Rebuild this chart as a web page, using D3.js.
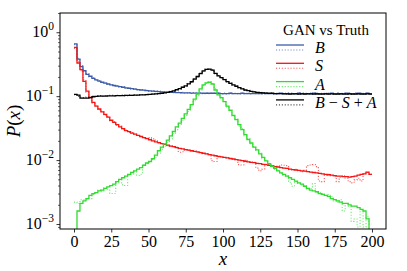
<!DOCTYPE html>
<html>
<head>
<meta charset="utf-8">
<script src="https://cdn.jsdelivr.net/npm/d3@7"></script>
<style>
  html, body { margin: 0; padding: 0; background: #fff; }
  svg, svg text { font-family: 'Liberation Serif', 'DejaVu Serif', 'Times New Roman', serif; }
  svg { display: block; }
</style>
</head>
<body>
<svg id="chart" width="407" height="271"></svg>
<script>
// bins of width 2 from 0 to 200
var binWidth = 2;
var binStarts = d3.range(0, 200, binWidth);

var xTicks = [0, 25, 50, 75, 100, 125, 150, 175, 200];
var yTicks = [1e-3, 1e-2, 1e-1, 1];
var yTickExp = ["\u22123", "\u22122", "\u22121", "0"];

// B : GAN (solid) and truth (dotted)
var bGan = [
  0.66,0.38,0.29,0.25,0.22,0.205,0.19,0.18,0.172,0.165,
  0.16,0.155,0.15,0.147,0.144,0.141,0.138,0.135,0.133,0.131,
  0.129,0.127,0.125,0.124,0.122,0.121,0.12,0.119,0.118,0.117,
  0.116,0.116,0.115,0.115,0.114,0.114,0.113,0.113,0.113,0.112,
  0.112,0.112,0.112,0.111,0.111,0.111,0.111,0.111,0.111,0.11,
  0.11,0.11,0.111,0.11,0.11,0.11,0.111,0.11,0.11,0.11,
  0.11,0.11,0.11,0.111,0.11,0.11,0.11,0.11,0.11,0.111,
  0.11,0.11,0.11,0.11,0.11,0.111,0.11,0.11,0.11,0.11,
  0.111,0.11,0.11,0.11,0.11,0.11,0.111,0.11,0.11,0.11,
  0.11,0.111,0.11,0.11,0.11,0.111,0.11,0.11,0.111,0.11
];
var bTruth = [
  0.64,0.39,0.3,0.245,0.226,0.2,0.194,0.177,0.175,0.162,
  0.162,0.152,0.152,0.145,0.146,0.139,0.14,0.133,0.134,0.129,
  0.131,0.125,0.127,0.122,0.124,0.119,0.122,0.117,0.12,0.115,
  0.118,0.114,0.117,0.113,0.116,0.112,0.115,0.111,0.114,0.11,
  0.114,0.11,0.113,0.109,0.113,0.109,0.112,0.109,0.113,0.108,
  0.112,0.108,0.113,0.109,0.111,0.108,0.112,0.109,0.113,0.108,
  0.111,0.109,0.112,0.108,0.113,0.109,0.111,0.108,0.112,0.11,
  0.109,0.112,0.108,0.111,0.109,0.113,0.108,0.111,0.109,0.112,
  0.108,0.113,0.109,0.111,0.108,0.112,0.11,0.109,0.113,0.108,
  0.111,0.109,0.112,0.108,0.113,0.109,0.111,0.108,0.112,0.11
];

// S
var sGan = [
  0.58,0.33,0.26,0.17,0.12,0.095,0.08,0.07,0.063,0.057,
  0.052,0.047,0.042,0.039,0.036,0.033,0.031,0.029,0.0278,0.0265,
  0.0254,0.0244,0.0234,0.0225,0.0216,0.0208,0.02,0.0193,0.0187,0.0181,
  0.0176,0.0171,0.0166,0.0162,0.0157,0.0153,0.015,0.0146,0.0143,0.014,
  0.0137,0.0134,0.0131,0.0128,0.0125,0.0122,0.012,0.0117,0.0114,0.0112,
  0.011,0.0108,0.0106,0.0104,0.0102,0.01,0.0098,0.0096,0.0094,0.0092,
  0.0091,0.0089,0.0088,0.0086,0.0085,0.0083,0.0081,0.0079,0.0078,0.0076,
  0.0075,0.0074,0.0072,0.0071,0.007,0.0069,0.0068,0.0067,0.0066,0.0065,
  0.0064,0.0063,0.0062,0.0061,0.006,0.0059,0.0058,0.0057,0.0056,0.0056,
  0.0055,0.0055,0.0054,0.0055,0.0056,0.0058,0.006,0.0061,0.0065,0.006
];
var sTruth = [
  0.56,0.35,0.25,0.18,0.115,0.098,0.078,0.072,0.061,0.058,
  0.05,0.048,0.041,0.04,0.035,0.034,0.03,0.0295,0.027,0.027,
  0.0255,0.0243,0.0236,0.0222,0.0219,0.0225,0.0215,0.0205,0.0186,0.0182,
  0.0178,0.0168,0.0167,0.0159,0.016,0.0133,0.0135,0.0146,0.0143,0.0138,
  0.0139,0.0132,0.0133,0.0126,0.0127,0.0121,0.0098,0.0095,0.0112,0.0113,
  0.0109,0.011,0.0105,0.0104,0.0101,0.0085,0.0084,0.0099,0.0097,0.0093,
  0.0092,0.0075,0.0068,0.0072,0.0086,0.0084,0.0082,0.0078,0.008,0.0084,
  0.0083,0.0082,0.0071,0.007,0.0072,0.0068,0.0066,0.0069,0.0082,0.0084,
  0.0085,0.0079,0.0047,0.0046,0.0058,0.006,0.0057,0.0055,0.0046,0.0054,
  0.0057,0.0052,0.0046,0.0044,0.0049,0.0052,0.0047,0.0063,0.0064,0.0061
];

// A
var aGan = [
  0,0.0016,0.0021,0.0023,0.0025,0.0028,0.003,0.0031,0.0033,0.0034,
  0.0036,0.0038,0.004,0.0042,0.0046,0.005,0.0053,0.0056,0.006,0.0064,
  0.0068,0.0072,0.0076,0.0083,0.009,0.0095,0.0105,0.012,0.014,0.016,
  0.018,0.0205,0.024,0.028,0.033,0.038,0.045,0.053,0.062,0.074,
  0.09,0.108,0.13,0.15,0.162,0.165,0.155,0.125,0.105,0.095,
  0.082,0.07,0.06,0.05,0.043,0.036,0.03,0.025,0.021,0.0185,
  0.016,0.0145,0.0125,0.011,0.0097,0.0088,0.008,0.0074,0.0068,0.0063,
  0.006,0.0056,0.0053,0.005,0.0047,0.0044,0.0042,0.0039,0.0036,0.0034,
  0.0033,0.0032,0.003,0.0029,0.0028,0.0027,0.0025,0.0024,0.0023,0.0022,
  0.0021,0.0021,0.002,0.0019,0.0019,0.0018,0.0017,0.0016,0.0012,0
];
var aTruth = [
  0.0022,0.0021,0.0024,0.0024,0.0024,0.0025,0.0029,0.0031,0.0034,0.0032,
  0.0037,0.0035,0.003,0.003,0.0044,0.0049,0.0041,0.004,0.0058,0.006,
  0.0066,0.0058,0.006,0.0083,0.0088,0.0093,0.0102,0.0111,0.0128,0.0148,
  0.0165,0.019,0.0215,0.026,0.03,0.036,0.042,0.05,0.058,0.07,
  0.085,0.102,0.125,0.146,0.16,0.168,0.158,0.13,0.108,0.093,
  0.084,0.068,0.062,0.048,0.044,0.034,0.031,0.024,0.022,0.018,
  0.0163,0.0142,0.0128,0.0105,0.0099,0.0085,0.0082,0.0072,0.0069,0.0062,
  0.0058,0.0057,0.0045,0.0039,0.0046,0.0043,0.0041,0.004,0.0035,0.0036,
  0.0043,0.0031,0.0031,0.003,0.0028,0.0029,0.0027,0.0023,0.0022,0.0024,
  0.0016,0.0021,0.0019,0.0011,0.0012,0.0009,0.0016,0.0009,0.0013,0.001
];

// B - S + A
var kGan = [
  0.107,0.104,0.093,0.093,0.093,0.095,0.098,0.099,0.1,0.1,
  0.1,0.101,0.101,0.101,0.102,0.102,0.102,0.103,0.103,0.103,
  0.104,0.104,0.105,0.105,0.106,0.107,0.108,0.109,0.11,0.111,
  0.113,0.115,0.118,0.121,0.126,0.131,0.138,0.145,0.156,0.168,
  0.185,0.203,0.226,0.248,0.262,0.265,0.256,0.228,0.207,0.195,
  0.181,0.169,0.159,0.15,0.143,0.136,0.13,0.125,0.122,0.119,
  0.117,0.115,0.114,0.113,0.112,0.111,0.111,0.11,0.11,0.11,
  0.109,0.109,0.108,0.109,0.109,0.108,0.109,0.108,0.109,0.109,
  0.108,0.109,0.108,0.108,0.109,0.108,0.109,0.108,0.108,0.109,
  0.108,0.108,0.109,0.108,0.108,0.109,0.108,0.108,0.109,0.108
];
var kTruth = [
  0.105,0.099,0.096,0.095,0.097,0.096,0.1,0.099,0.102,0.1,
  0.102,0.1,0.103,0.101,0.103,0.102,0.104,0.102,0.105,0.103,
  0.105,0.104,0.106,0.105,0.107,0.106,0.109,0.108,0.111,0.11,
  0.114,0.114,0.119,0.12,0.127,0.129,0.139,0.143,0.158,0.165,
  0.188,0.2,0.229,0.245,0.265,0.262,0.258,0.225,0.21,0.192,
  0.183,0.167,0.161,0.148,0.145,0.134,0.132,0.124,0.123,0.118,
  0.118,0.114,0.115,0.112,0.113,0.11,0.112,0.109,0.111,0.109,
  0.11,0.108,0.111,0.108,0.11,0.107,0.111,0.108,0.11,0.108,
  0.111,0.107,0.11,0.108,0.111,0.108,0.11,0.107,0.111,0.108,
  0.11,0.108,0.111,0.107,0.11,0.108,0.111,0.108,0.11,0.108
];

var seriesNames = ["B", "S", "A", "B-S+A"];
var seriesColors = ["#3d5ba8", "#f41515", "#2fdc2f", "#000000"];
var seriesGan = [bGan, sGan, aGan, kGan];
var seriesTruth = [bTruth, sTruth, aTruth, kTruth];

var serif = "'Liberation Serif', 'DejaVu Serif', 'Times New Roman', serif";

var svg = d3.select("#chart");

var plotLeft = 60,
    plotRight = 386,
    plotTop = 13,
    plotBottom = 229;

var x = d3.scaleLinear().domain([-9.4, 209.4]).range([plotLeft, plotRight]);
var y = d3.scaleLog().domain([8.36e-4, 2.0]).range([plotBottom, plotTop]);

svg.append("defs").append("clipPath")
    .attr("id", "plotclip")
  .append("rect")
    .attr("x", plotLeft)
    .attr("y", plotTop)
    .attr("width", plotRight - plotLeft)
    .attr("height", plotBottom - plotTop);

// step line, empty bins drop below the axis (clipped)
var stepLine = d3.line()
    .x(function(d) { return x(d[0]); })
    .y(function(d) { return d[1] > 0 ? y(d[1]) : plotBottom + 40; })
    .curve(d3.curveStepAfter);

function stepPoints(values) {
  var pts = values.map(function(v, i) { return [binStarts[i], v]; });
  pts.push([binStarts[values.length - 1] + binWidth, values[values.length - 1]]);
  return pts;
}

var lines = svg.append("g").attr("clip-path", "url(#plotclip)");

seriesNames.forEach(function(name, i) {
  // truth, dotted
  lines.append("path")
      .datum(stepPoints(seriesTruth[i]))
      .attr("d", stepLine)
      .style("fill", "none")
      .style("stroke", seriesColors[i])
      .style("stroke-width", 1.1)
      .style("stroke-dasharray", "1.1,1.8")
      .style("opacity", 0.7);
  // GAN, solid
  lines.append("path")
      .datum(stepPoints(seriesGan[i]))
      .attr("d", stepLine)
      .style("fill", "none")
      .style("stroke", seriesColors[i])
      .style("stroke-width", 1.3);
});


// Axes
var xAxis = svg.append("g")
    .attr("transform", "translate(0," + plotBottom + ")")
    .call(d3.axisBottom(x).tickValues(xTicks).tickSize(3.5).tickPadding(3).tickFormat(d3.format("d")));
xAxis.attr("font-family", null);
xAxis.select(".domain").remove();
xAxis.selectAll("line").style("stroke", "#000").style("stroke-width", 0.8);
xAxis.selectAll("text")
    .style("font-family", serif)
    .style("font-size", "16px")
    .style("fill", "#000");

// minor log ticks
var minorTicks = y.ticks().filter(function(d) { return yTicks.indexOf(d) < 0; });
var yMinor = svg.append("g")
    .attr("transform", "translate(" + plotLeft + ",0)")
    .call(d3.axisLeft(y).tickValues(minorTicks).tickSize(2).tickFormat(""));
yMinor.select(".domain").remove();
yMinor.selectAll("line").style("stroke", "#000").style("stroke-width", 0.6);

var yMajor = svg.append("g")
    .attr("transform", "translate(" + plotLeft + ",0)")
    .call(d3.axisLeft(y).tickValues(yTicks).tickSize(3.5).tickFormat(""));
yMajor.select(".domain").remove();
yMajor.selectAll("line").style("stroke", "#000").style("stroke-width", 0.8);

// 10^k labels
yTicks.forEach(function(t, i) {
  var label = svg.append("text")
      .attr("x", plotLeft - 6)
      .attr("y", y(t) + 5)
      .attr("text-anchor", "end")
      .style("font-family", serif)
      .style("font-size", "16px");
  label.append("tspan").text("10");
  label.append("tspan")
      .attr("dy", -7)
      .style("font-size", "11.5px")
      .text(yTickExp[i]);
});

// frame
svg.append("rect")
    .attr("x", plotLeft)
    .attr("y", plotTop)
    .attr("width", plotRight - plotLeft)
    .attr("height", plotBottom - plotTop)
    .style("fill", "none")
    .style("stroke", "#000")
    .style("stroke-width", 1);

// axis labels
svg.append("text")
    .attr("x", (plotLeft + plotRight) / 2)
    .attr("y", 265)
    .attr("text-anchor", "middle")
    .style("font-family", serif)
    .style("font-size", "19px")
    .style("font-style", "italic")
    .text("x");

var ylab = svg.append("text")
    .attr("transform", "translate(20," + ((plotTop + plotBottom) / 2) + ") rotate(-90)")
    .attr("text-anchor", "middle")
    .style("font-family", serif)
    .style("font-size", "19px");
ylab.append("tspan").style("font-style", "italic").text("P");
ylab.append("tspan").text("(");
ylab.append("tspan").style("font-style", "italic").text("x");
ylab.append("tspan").text(")");


// Legend
var legend = svg.append("g").style("font-family", serif);
legend.append("text")
    .attr("x", 326)
    .attr("y", 35)
    .attr("text-anchor", "middle")
    .style("font-size", "15px")
    .text("GAN vs Truth");

seriesNames.forEach(function(name, i) {
  var ly = 45 + i * 18.3;
  legend.append("line")
      .attr("x1", 276).attr("x2", 304)
      .attr("y1", ly).attr("y2", ly)
      .style("stroke", seriesColors[i])
      .style("stroke-width", 1.3);
  legend.append("line")
      .attr("x1", 276).attr("x2", 304)
      .attr("y1", ly + 5).attr("y2", ly + 5)
      .style("stroke", seriesColors[i])
      .style("stroke-width", 1.1)
      .style("stroke-dasharray", "1.1,1.8")
      .style("opacity", 0.7);

  var lab = legend.append("text")
      .attr("x", 315)
      .attr("y", ly + 8)
      .style("font-size", "16px");
  name.split(/([-+])/).forEach(function(part) {
    if (part === "-") {
      lab.append("tspan").text(" \u2212 ");
    } else if (part === "+") {
      lab.append("tspan").text(" + ");
    } else {
      lab.append("tspan").style("font-style", "italic").text(part);
    }
  });
});
</script>
</body>
</html>
